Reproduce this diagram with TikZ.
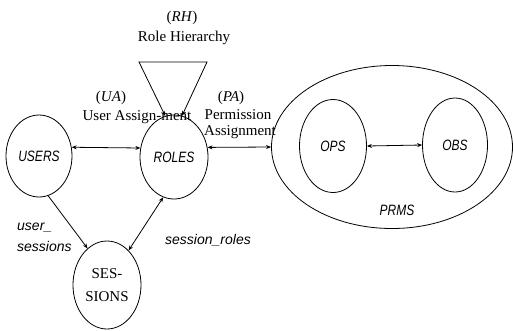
\documentclass[tikz,border=0pt]{standalone}
\usepackage{fontspec}
\usepackage{graphicx}
\setmainfont{Liberation Serif}
\setsansfont{Liberation Sans}
\usetikzlibrary{shapes.geometric,arrows.meta}
\newcommand{\nar}[1]{\scalebox{0.8}[1]{\fontsize{15}{17}\sffamily\itshape\selectfont #1}}
\tikzset{
  ell/.style={draw, ellipse, inner sep=0pt, line width=0.8pt},
  lbl/.style={inner sep=0pt, font=\fontsize{15}{17}\selectfont},
  slbl/.style={inner sep=0pt, font=\fontsize{14}{19}\sffamily\itshape\selectfont},
  con/.style={line width=0.8pt},
  tip/.tip={Stealth[length=5pt,width=4pt]}
}
\begin{document}
\begin{tikzpicture}[x=1pt,y=-1pt]
\useasboundingbox (0,0) rectangle (513,330);
% ellipses
\node[ell, minimum width=66pt, minimum height=82pt] (users) at (39,156) {\raisebox{-5pt}{\nar{USERS}}};
\node[ell, minimum width=68pt, minimum height=84pt] (roles) at (174,157) {\raisebox{-5pt}{\nar{ROLES}}};
\node[ell, minimum width=68pt, minimum height=88pt, align=center, font=\fontsize{15}{23}\selectfont] (sessions) at (107,285) {SES-\\SIONS};
\node[ell, minimum width=241pt, minimum height=163pt] (prms) at (392,147) {};
\node[ell, minimum width=67pt, minimum height=93pt] (ops) at (333,146) {\nar{OPS}};
\node[ell, minimum width=65pt, minimum height=94pt] (obs) at (455,145) {\nar{OBS}};
\node[inner sep=0pt] (prmsl) at (397,210) {\nar{PRMS}};
% labels
\node[lbl] (rh) at (182,18) {(\textit{RH})};
\node[lbl] (rhl) at (184,38) {Role Hierarchy};
\node[lbl] (ua) at (111,98) {(\textit{UA})};
\node[lbl] (ual) at (137,117) {User Assign-ment};
\node[lbl] (pa) at (231,98) {(\textit{PA})};
\node[lbl] (pal1) at (238,115) {Permission};
\node[lbl] (pal2) at (240,132) {Assignment};
\node[slbl, anchor=west] (us1) at (17,228) {user\_};
\node[slbl, anchor=west] (us2) at (17,246) {sessions};
\node[slbl] (sr) at (208,240) {session\_roles};
% triangle (role hierarchy)
\coordinate (tl) at (139,62);
\coordinate (tr) at (207,62);
\draw[con, tip-tip] (roles.102) -- (tl) -- (tr) -- (roles.79);
% connectors
\draw[con, tip-tip] (users.15) -- (roles.165);
\draw[con, tip-tip] (roles.16) -- (prms.west);
\draw[con, tip-tip] (ops.east) -- (obs.west);
\draw[con, -tip] (users.-77) -- (sessions.118);
\draw[con, tip-tip] (roles.-105) -- (sessions.58);
\end{tikzpicture}
\end{document}
